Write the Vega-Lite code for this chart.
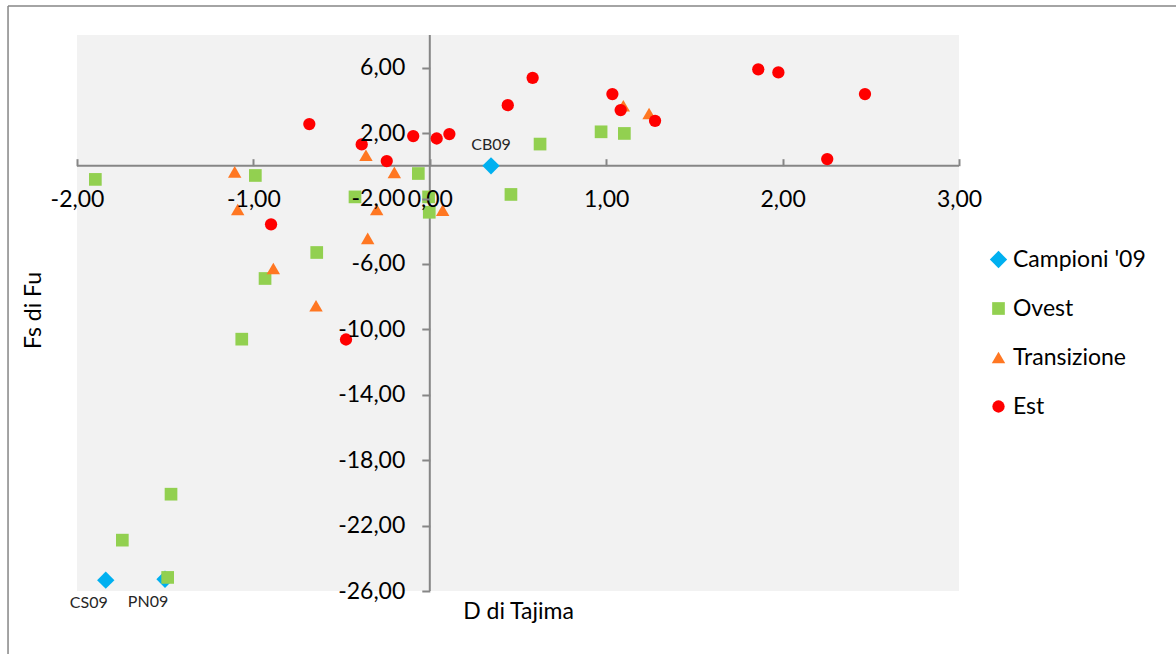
{
  "$schema": "https://vega.github.io/schema/vega-lite/v6.json",
  "width": 882,
  "height": 556,
  "autosize": {"type": "none"},
  "padding": {"left": 77, "top": 35, "right": 217, "bottom": 63},
  "background": "white",
  "config": {
    "locale": {"number": {"decimal": ",", "thousands": ".", "grouping": [3], "currency": ["", " €"], "minus": "-"}},
    "view": {"fill": "#F2F2F2", "stroke": null},
    "font": "Lato"
  },
  "datasets": {
    "punti": [
      {"gruppo": "Campioni '09", "D": 0.347, "Fs": 0.0, "sigla": "CB09"},
      {"gruppo": "Campioni '09", "D": -1.837, "Fs": -25.34, "sigla": "CS09"},
      {"gruppo": "Campioni '09", "D": -1.501, "Fs": -25.28, "sigla": "PN09"},
      {"gruppo": "Ovest", "D": -1.896, "Fs": -0.83},
      {"gruppo": "Ovest", "D": -0.989, "Fs": -0.59},
      {"gruppo": "Ovest", "D": -0.065, "Fs": -0.47},
      {"gruppo": "Ovest", "D": -0.424, "Fs": -1.9},
      {"gruppo": "Ovest", "D": -0.007, "Fs": -1.9},
      {"gruppo": "Ovest", "D": -0.003, "Fs": -2.84},
      {"gruppo": "Ovest", "D": -0.641, "Fs": -5.3},
      {"gruppo": "Ovest", "D": -0.934, "Fs": -6.89},
      {"gruppo": "Ovest", "D": -1.066, "Fs": -10.6},
      {"gruppo": "Ovest", "D": 0.971, "Fs": 2.08},
      {"gruppo": "Ovest", "D": 1.103, "Fs": 1.98},
      {"gruppo": "Ovest", "D": 0.625, "Fs": 1.33},
      {"gruppo": "Ovest", "D": 0.46, "Fs": -1.75},
      {"gruppo": "Ovest", "D": -1.467, "Fs": -20.08},
      {"gruppo": "Ovest", "D": -1.743, "Fs": -22.89},
      {"gruppo": "Ovest", "D": -1.486, "Fs": -25.17},
      {"gruppo": "Transizione", "D": -1.106, "Fs": -0.37},
      {"gruppo": "Transizione", "D": -1.089, "Fs": -2.67},
      {"gruppo": "Transizione", "D": -0.362, "Fs": 0.65},
      {"gruppo": "Transizione", "D": -0.201, "Fs": -0.4},
      {"gruppo": "Transizione", "D": -0.301, "Fs": -2.67},
      {"gruppo": "Transizione", "D": 0.073, "Fs": -2.71},
      {"gruppo": "Transizione", "D": -0.352, "Fs": -4.44},
      {"gruppo": "Transizione", "D": -0.887, "Fs": -6.28},
      {"gruppo": "Transizione", "D": -0.645, "Fs": -8.56},
      {"gruppo": "Transizione", "D": 1.097, "Fs": 3.67},
      {"gruppo": "Transizione", "D": 1.243, "Fs": 3.2},
      {"gruppo": "Est", "D": -0.9, "Fs": -3.58},
      {"gruppo": "Est", "D": -0.683, "Fs": 2.55},
      {"gruppo": "Est", "D": -0.386, "Fs": 1.31},
      {"gruppo": "Est", "D": -0.244, "Fs": 0.29},
      {"gruppo": "Est", "D": -0.094, "Fs": 1.82},
      {"gruppo": "Est", "D": 0.039, "Fs": 1.67},
      {"gruppo": "Est", "D": 0.111, "Fs": 1.94},
      {"gruppo": "Est", "D": -0.475, "Fs": -10.62},
      {"gruppo": "Est", "D": 0.583, "Fs": 5.38},
      {"gruppo": "Est", "D": 0.442, "Fs": 3.71},
      {"gruppo": "Est", "D": 1.035, "Fs": 4.39},
      {"gruppo": "Est", "D": 1.082, "Fs": 3.41},
      {"gruppo": "Est", "D": 1.277, "Fs": 2.75},
      {"gruppo": "Est", "D": 1.862, "Fs": 5.9},
      {"gruppo": "Est", "D": 1.976, "Fs": 5.71},
      {"gruppo": "Est", "D": 2.467, "Fs": 4.39},
      {"gruppo": "Est", "D": 2.253, "Fs": 0.41}
    ]
  },
  "layer": [
    {
      "data": {"values": [{}]},
      "mark": {"type": "rule", "color": "#868686", "strokeWidth": 1.5, "clip": false},
      "encoding": {
        "x": {"datum": -2.391, "type": "quantitative"},
        "y": {"datum": 9.768, "type": "quantitative"},
        "y2": {"datum": -29.9}
      }
    },
    {
      "data": {"values": [{}]},
      "mark": {"type": "rule", "color": "#868686", "strokeWidth": 1.5, "clip": false},
      "encoding": {
        "y": {"datum": 9.768, "type": "quantitative"},
        "x": {"datum": -2.391, "type": "quantitative"},
        "x2": {"datum": 4.25}
      }
    },
    {
      "data": {"values": [{}]},
      "mark": {"type": "rule", "color": "#868686", "strokeWidth": 2},
      "encoding": {"x": {"datum": 0, "type": "quantitative"}}
    },
    {
      "data": {"values": [{}]},
      "mark": {"type": "rule", "color": "#868686", "strokeWidth": 2},
      "encoding": {"y": {"datum": 0, "type": "quantitative"}}
    },
    {
      "data": {"name": "punti"},
      "mark": {"type": "point", "filled": true, "opacity": 1, "strokeWidth": 0},
      "encoding": {
        "x": {
          "field": "D", "type": "quantitative",
          "scale": {"domain": [-2, 3], "nice": false, "zero": false},
          "axis": {
            "title": "D di Tajima",
            "values": [-2, -1, 0, 1, 2, 3],
            "format": ".2f",
            "offset": -425.3,
            "domain": false, "grid": false,
            "tickSize": -7, "tickColor": "#868686", "tickWidth": 2,
            "labelPadding": 41, "labelBaseline": "middle",
            "labelFont": "Lato", "labelFontSize": 23, "labelColor": "#000000",
            "labelFlush": false, "labelOverlap": false,
            "titleFont": "Lato", "titleFontSize": 23, "titleFontWeight": "normal", "titleColor": "#000000",
            "titleY": 446, "titleBaseline": "middle",
            "zindex": 1
          }
        },
        "y": {
          "field": "Fs", "type": "quantitative",
          "scale": {"domain": [-26, 8], "nice": false, "zero": false},
          "axis": {
            "title": "Fs di Fu",
            "values": [-26, -22, -18, -14, -10, -6, -2, 2, 6],
            "format": ".2f",
            "offset": -352.8,
            "domain": false, "grid": false,
            "tickSize": 8, "tickColor": "#868686", "tickWidth": 2,
            "labelPadding": 17, "labelBaseline": "middle",
            "labelFont": "Lato", "labelFontSize": 23, "labelColor": "#000000",
            "labelFlush": false, "labelOverlap": false,
            "titleFont": "Lato", "titleFontSize": 23, "titleFontWeight": "normal", "titleColor": "#000000",
            "titleX": -396, "titleY": 275, "titleAngle": -90, "titleBaseline": "middle", "titleAlign": "center",
            "zindex": 1
          }
        },
        "color": {
          "field": "gruppo", "type": "nominal",
          "scale": {"domain": ["Campioni '09", "Ovest", "Transizione", "Est"], "range": ["#00B0F0", "#92D050", "#FF7722", "#FF0000"]},
          "legend": {
            "title": null, "orient": "none", "legendX": 910, "legendY": 213,
            "labelFont": "Lato", "labelFontSize": 23, "labelColor": "#000000",
            "symbolSize": 170, "rowPadding": 25, "labelOffset": 3, "symbolStrokeWidth": 0
          }
        },
        "shape": {
          "field": "gruppo", "type": "nominal",
          "scale": {"domain": ["Campioni '09", "Ovest", "Transizione", "Est"], "range": ["diamond", "square", "triangle-up", "circle"]}
        },
        "size": {
          "field": "gruppo", "type": "nominal",
          "scale": {"type": "ordinal", "domain": ["Campioni '09", "Ovest", "Transizione", "Est"], "range": [300, 161, 180, 151]},
          "legend": null
        }
      }
    },
    {
      "data": {"name": "punti"},
      "transform": [{"filter": "datum.sigla == 'CB09'"}],
      "mark": {"type": "text", "dy": -21, "align": "center", "baseline": "middle", "font": "Lato", "fontSize": 16, "color": "#262626"},
      "encoding": {
        "x": {"field": "D", "type": "quantitative"},
        "y": {"field": "Fs", "type": "quantitative"},
        "text": {"field": "sigla"}
      }
    },
    {
      "data": {"name": "punti"},
      "transform": [{"filter": "datum.sigla == 'CS09' || datum.sigla == 'PN09'"}],
      "mark": {"type": "text", "dx": -17, "dy": 23, "align": "center", "baseline": "middle", "font": "Lato", "fontSize": 16, "color": "#262626"},
      "encoding": {
        "x": {"field": "D", "type": "quantitative"},
        "y": {"field": "Fs", "type": "quantitative"},
        "text": {"field": "sigla"}
      }
    }
  ]
}
